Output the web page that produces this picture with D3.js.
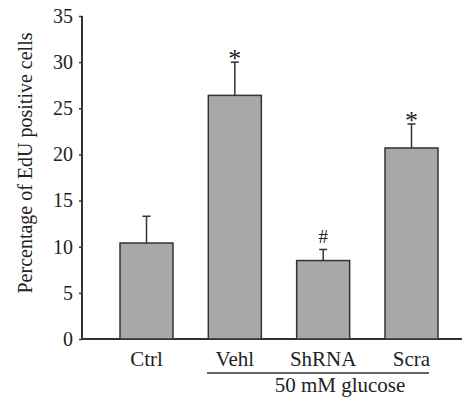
<!DOCTYPE html>
<html><head><meta charset="utf-8">
<script src="https://cdn.jsdelivr.net/npm/d3@7"></script>
<style>body{margin:0;background:#fff}svg{display:block}</style>
</head><body>
<script>
const categories = ["Ctrl","Vehl","ShRNA","Scra"];
const values = [10.4, 26.4, 8.5, 20.7];
const errors = [2.9, 3.6, 1.2, 2.6];
const marks = ["", "*", "#", "*"];
const yTicks = [0,5,10,15,20,25,30,35];
const yLabel = "Percentage of EdU positive cells";
const groupLabel = "50 mM glucose";

const W=464,H=397;
const svg=d3.select("body").append("svg").attr("width",W).attr("height",H);
const font="'Liberation Serif','Times New Roman',serif";
const y=d3.scaleLinear().domain([0,35]).range([339,16]);
const x=d3.scaleBand().domain(categories).range([120,438]).paddingInner(0.4).paddingOuter(0);
const ink="#333";

const yAxis=svg.append("g").attr("transform","translate(82,0)")
  .call(d3.axisLeft(y).tickValues(yTicks).tickSize(3).tickPadding(6));
yAxis.select(".domain").attr("stroke",ink).attr("stroke-width",2).attr("d","M0,"+y(35)+"V"+y(0));
yAxis.selectAll(".tick line").attr("stroke",ink).attr("stroke-width",1.5);
yAxis.selectAll("text").attr("font-family",font).attr("font-size",20).attr("fill","#222");

svg.append("line").attr("x1",82).attr("x2",462).attr("y1",y(0)).attr("y2",y(0)).attr("stroke",ink).attr("stroke-width",2);

const g=svg.append("g");
categories.forEach((c,i)=>{
  const cx=x(c)+x.bandwidth()/2;
  g.append("line").attr("x1",cx).attr("x2",cx).attr("y1",y(values[i])).attr("y2",y(values[i]+errors[i])).attr("stroke",ink).attr("stroke-width",1.5);
  g.append("line").attr("x1",cx-4).attr("x2",cx+4).attr("y1",y(values[i]+errors[i])).attr("y2",y(values[i]+errors[i])).attr("stroke",ink).attr("stroke-width",1.5);
  g.append("rect").attr("x",x(c)).attr("y",y(values[i])).attr("width",x.bandwidth()).attr("height",y(0)-y(values[i]))
    .attr("fill","#a8a8a8").attr("stroke",ink).attr("stroke-width",1.5);
  if(marks[i]) g.append("text").attr("x",cx).attr("y",y(values[i]+errors[i])-(marks[i]==="*"?-5:6))
    .attr("text-anchor","middle").attr("font-family",font).attr("font-size",marks[i]==="*"?26:19).attr("fill","#222").text(marks[i]);
  svg.append("text").attr("x",cx).attr("y",366).attr("text-anchor","middle").attr("font-family",font).attr("font-size",21).attr("fill","#222").text(c);
});
svg.append("line").attr("x1",207).attr("x2",429).attr("y1",373).attr("y2",373).attr("stroke",ink).attr("stroke-width",1.5);
svg.append("text").attr("x",340).attr("y",392).attr("text-anchor","middle").attr("font-family",font).attr("font-size",21).attr("fill","#222").text(groupLabel);
svg.append("text").attr("transform","translate(32,163) rotate(-90)").attr("text-anchor","middle").attr("font-family",font).attr("font-size",20).attr("fill","#222").text(yLabel);
</script>
</body></html>
